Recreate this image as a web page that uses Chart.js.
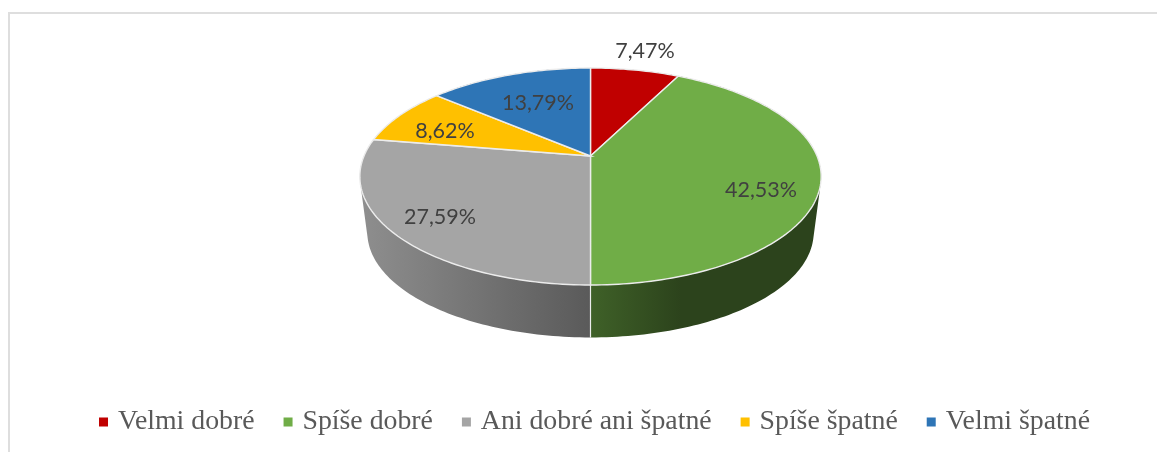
<!DOCTYPE html>
<html>
<head>
<meta charset="utf-8">
<script src="https://cdn.jsdelivr.net/npm/chart.js@4"></script>
<style>
    html, body { margin: 0; padding: 0; background: #fff; overflow: hidden; }
    #wrap { position: relative; width: 1157px; height: 452px; }
    #frame { position: absolute; left: 8px; top: 12px; right: 0; bottom: 0; border-left: 2px solid #dedede; border-top: 2px solid #dedede; }
    canvas { position: absolute; left: 0; top: 0; }
</style>
</head>
<body>
<div id="wrap">
    <div id="frame"></div>
    <canvas id="chart" width="1157" height="452"></canvas>
</div>
<script>
var categories = ["Velmi dobré", "Spíše dobré", "Ani dobré ani špatné", "Spíše špatné", "Velmi špatné"]
var shares = [7.47, 42.53, 27.59, 8.62, 13.79]
var colors = ["#c00000", "#70ad47", "#a5a5a5", "#ffc000", "#2e75b6"]
var wallColors = [["#6a0000", "#6a0000"], ["#3f6128", "#2c431c"], ["#8e8e8e", "#5a5a5a"], ["#8f6b00", "#8f6b00"], ["#1a4166", "#1a4166"]]
var labelSpots = [[645, 51], [761, 190], [440, 217], [445, 131], [538, 103]]

// tilted disc with a little perspective, the near edge comes out bigger
var view = { cx: 590.5, cy: 156, a: 226.5, b: 104.6, k: 0.189, vanishY: 1900, drop: 0.0325 }

function topPoint(angle) {
    var u = Math.cos(angle), v = Math.sin(angle)
    var w = 1 - view.k * v
    return { x: view.cx + view.a * u / w, y: view.cy + view.b * v / w }
}

function bottomPoint(angle) {
    var p = topPoint(angle)
    return {
        x: p.x + (view.cx - p.x) * view.drop,
        y: p.y + (view.vanishY - p.y) * view.drop
    }
}

function arcPoints(start, end, fn) {
    var steps = Math.max(2, Math.ceil((end - start) / 0.02))
    var pts = []
    for (var i = 0; i <= steps; ++i) {
        pts.push(fn(start + (end - start) * i / steps))
    }
    return pts
}

function tracePoints(ctx, pts) {
    pts.forEach(function (p) {
        ctx.lineTo(p.x, p.y)
    })
}

// small quads all wound the same way, the wall folds over at the silhouette
function traceWall(ctx, top, bottom) {
    for (var i = 0; i + 1 < top.length; ++i) {
        var quad = [top[i], top[i + 1], bottom[i + 1], bottom[i]]
        var area = 0
        quad.forEach(function (p, j) {
            var q = quad[(j + 1) % 4]
            area += p.x * q.y - q.x * p.y
        })
        if (area < 0) quad.reverse()
        ctx.moveTo(quad[0].x, quad[0].y)
        tracePoints(ctx, quad.slice(1))
        ctx.closePath()
    }
}

var tiltedPie = {
    id: 'tiltedPie',
    beforeDatasetsDraw: function (chart) {
        var ctx = chart.ctx
        var arcs = chart.getDatasetMeta(0).data

        ctx.save()
        // side wall first, the top face covers what is behind it
        arcs.forEach(function (arc, i) {
            var top = arcPoints(arc.startAngle, arc.endAngle, topPoint)
            var bottom = arcPoints(arc.startAngle, arc.endAngle, bottomPoint)
            var grad
            if (i == 1) grad = ctx.createLinearGradient(view.cx, 0, view.cx + 90, 0)
            else grad = ctx.createLinearGradient(view.cx - 228, 0, view.cx, 0)
            grad.addColorStop(0, wallColors[i][0])
            grad.addColorStop(1, wallColors[i][1])
            ctx.beginPath()
            traceWall(ctx, top, bottom)
            ctx.fillStyle = grad
            ctx.fill()
        })

        // seam on the wall where the slices meet at the front
        var frontTop = topPoint(Math.PI / 2), frontBottom = bottomPoint(Math.PI / 2)
        ctx.strokeStyle = "#ececec"
        ctx.lineWidth = 1.2
        ctx.beginPath()
        ctx.moveTo(frontTop.x, frontTop.y)
        ctx.lineTo(frontBottom.x, frontBottom.y)
        ctx.stroke()

        arcs.forEach(function (arc, i) {
            ctx.beginPath()
            ctx.moveTo(view.cx, view.cy)
            tracePoints(ctx, arcPoints(arc.startAngle, arc.endAngle, topPoint))
            ctx.closePath()
            ctx.fillStyle = colors[i]
            ctx.strokeStyle = "#ececec"
            ctx.lineWidth = 1.4
            ctx.fill()
            ctx.stroke()
        })

        ctx.font = "21.5px Lato"
        ctx.fillStyle = "#404040"
        ctx.textAlign = "center"
        ctx.textBaseline = "middle"
        shares.forEach(function (s, i) {
            ctx.fillText(s.toFixed(2).replace('.', ',') + "%", labelSpots[i][0], labelSpots[i][1])
        })
        ctx.restore()
        return false
    }
}

var pieConfig = {
    type: 'pie',
    data: {
        labels: categories,
        datasets: [{
            data: shares,
            backgroundColor: colors,
            borderColor: colors,
            borderWidth: 8
        }]
    },
    options: {
        responsive: false,
        animation: false,
        layout: { padding: { left: 36, bottom: 6 } },
        plugins: {
            tooltip: { enabled: false },
            legend: {
                position: 'bottom',
                labels: {
                    boxWidth: 1,
                    boxHeight: 1,
                    padding: 33,
                    color: "#595959",
                    font: { family: "'Liberation Serif'", size: 27.8 }
                }
            }
        }
    },
    plugins: [tiltedPie]
}

new Chart(document.getElementById("chart").getContext('2d'), pieConfig)
</script>
</body>
</html>
